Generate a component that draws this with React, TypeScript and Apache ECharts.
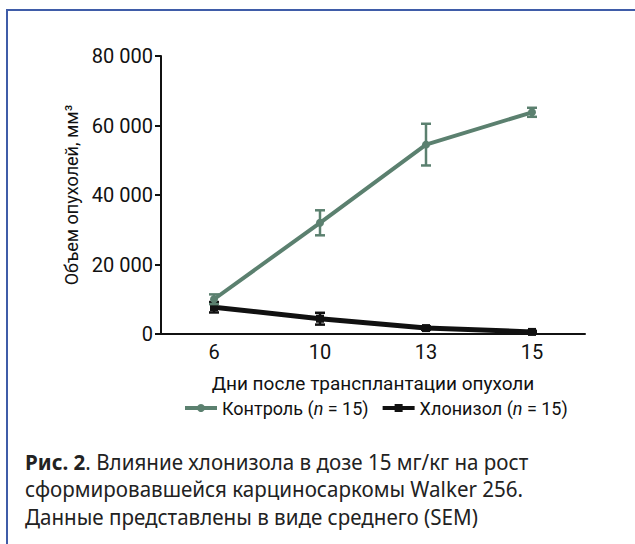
import React, { useEffect, useRef } from "react";
import * as echarts from "echarts";

const days = ["6", "10", "13", "15"];
const controlMean = [10000, 32000, 54500, 63800];
const controlSem = [1400, 3600, 6000, 1300];
const chlonizolMean = [7700, 4400, 1700, 600];
const chlonizolSem = [1500, 1700, 500, 300];
const yTicks = { min: 0, max: 80000, interval: 20000 };
const captionLines = [
  "{b|Рис. 2}. Влияние хлонизола в дозе 15 мг/кг на рост",
  "сформировавшейся карциносаркомы Walker 256.",
  "Данные представлены в виде среднего (SEM)",
];

const GREEN = "#5b806f";
const BLACK = "#111111";

function errData(mean: number[], sem: number[]) {
  return mean.map((m, i) => [i, m - sem[i], m + sem[i]]);
}

function errRender(color: string, lw: number) {
  return (params: any, api: any) => {
    const x = api.value(0);
    const lo = api.coord([x, api.value(1)]);
    const hi = api.coord([x, api.value(2)]);
    const w = 5;
    const style = { stroke: color, lineWidth: lw };
    return {
      type: "group",
      children: [
        { type: "line", shape: { x1: lo[0], y1: lo[1], x2: hi[0], y2: hi[1] }, style },
        { type: "line", shape: { x1: hi[0] - w, y1: hi[1], x2: hi[0] + w, y2: hi[1] }, style },
        { type: "line", shape: { x1: lo[0] - w, y1: lo[1], x2: lo[0] + w, y2: lo[1] }, style },
      ],
    };
  };
}

const fmt = (v: number) => String(v).replace(/\B(?=(\d{3})+(?!\d))/g, " ");

export default function App() {
  const ref = useRef<HTMLDivElement>(null);
  useEffect(() => {
    const chart = echarts.init(ref.current!, null, { renderer: "svg" });
    const font = "Roboto";
    const capFont = "Noto Sans";
    chart.setOption({
      animation: false,
      textStyle: { fontFamily: font },
      grid: { left: 161, right: 50, top: 56, bottom: 210, containLabel: false },
      xAxis: {
        type: "category",
        data: days,
        boundaryGap: true,
        name: "Дни после трансплантации опухоли",
        nameLocation: "middle",
        nameGap: 40,
        nameTextStyle: { fontSize: 19, color: "#111", fontFamily: font },
        axisLine: { lineStyle: { color: "#111", width: 2 } },
        axisTick: { alignWithLabel: true, length: 6, lineStyle: { color: "#111", width: 2 } },
        axisLabel: { fontSize: 20, color: "#111", margin: 8, fontFamily: font },
      },
      yAxis: {
        type: "value",
        min: yTicks.min,
        max: yTicks.max,
        interval: yTicks.interval,
        name: "Объем опухолей, мм³",
        nameLocation: "middle",
        nameGap: 80,
        nameTextStyle: { fontSize: 18, color: "#111", fontFamily: font },
        axisLine: { show: true, lineStyle: { color: "#111", width: 2 } },
        axisTick: { show: true, length: 6, lineStyle: { color: "#111", width: 2 } },
        splitLine: { show: false },
        axisLabel: { fontSize: 20, color: "#111", margin: 8, formatter: fmt, fontFamily: font },
      },
      legend: {
        left: 178,
        top: 394,
        itemWidth: 32,
        itemHeight: 10,
        itemGap: 12,
        lineStyle: { width: 4 },
        data: ["Контроль", "Хлонизол"],
        formatter: (name: string) => name + " ({i|n} = 15)",
        textStyle: {
          fontSize: 18,
          color: "#111",
          fontFamily: font,
          rich: { i: { fontStyle: "italic", fontSize: 18, fontFamily: font, color: "#111" } },
        },
      },
      series: [
        {
          name: "Хлонизол",
          type: "line",
          data: chlonizolMean,
          symbol: "rect",
          symbolSize: 8,
          itemStyle: { color: BLACK },
          lineStyle: { color: BLACK, width: 5 },
          z: 3,
        },
        {
          name: "err2",
          type: "custom",
          data: errData(chlonizolMean, chlonizolSem),
          renderItem: errRender(BLACK, 2.5),
          z: 3,
        },
        {
          name: "Контроль",
          type: "line",
          data: controlMean,
          symbol: "circle",
          symbolSize: 8,
          itemStyle: { color: GREEN },
          lineStyle: { color: GREEN, width: 4 },
          z: 4,
        },
        {
          name: "err1",
          type: "custom",
          data: errData(controlMean, controlSem),
          renderItem: errRender(GREEN, 2.5),
          z: 4,
        },
      ],
      graphic: [
        {
          type: "rect",
          shape: { x: 7, y: 10, width: 700, height: 700 },
          style: { fill: "none", stroke: "#3f5ca8", lineWidth: 2 },
          silent: true,
        },
        ...captionLines.map((t, i) => ({
          type: "text",
          x: 25,
          y: 450 + i * 27.5,
          scaleX: 0.935,
          style: {
            text: t,
            fontSize: 22,
            fontFamily: capFont,
            fill: "#222",
            rich: { b: { fontWeight: "bold", fontSize: 22, fontFamily: capFont, fill: "#222" } },
          },
        })),
      ],
    });
    return () => chart.dispose();
  }, []);
  return (
    <div
      ref={ref}
      style={{ position: "absolute", left: 0, top: 0, width: 635, height: 544, background: "#fff" }}
    />
  );
}
